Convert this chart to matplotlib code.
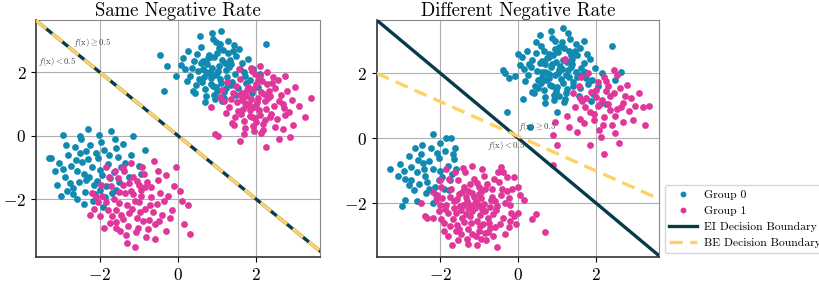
import numpy as np
import matplotlib
matplotlib.use("Agg")
import matplotlib.pyplot as plt

plt.rcParams['font.family'] = 'serif'
plt.rcParams['font.serif'] = ['cmr10', 'DejaVu Serif']
plt.rcParams['mathtext.fontset'] = 'cm'
plt.rcParams['axes.formatter.use_mathtext'] = True

BLUE = '#118ab2'
PINK = '#e0379b'
DARK = '#073b4c'
YELLOW = '#ffd166'

# ---- Same Negative Rate: point clouds ----
sn_g0_hi = [(1.02,2.05),(0.85,1.82),(1.21,2.31),(0.63,2.12),(1.45,1.95),(0.92,2.48),(1.10,1.66),(0.74,2.25),
            (1.33,2.40),(0.55,1.78),(1.58,2.10),(0.98,1.55),(1.27,2.62),(0.81,2.00),(1.06,2.20),(0.40,2.35),
            (1.72,1.88),(0.69,1.47),(1.15,2.72),(0.95,1.92),(1.38,1.70),(0.50,2.58),(0.88,2.15),(1.63,2.28),
            (1.19,1.38),(0.77,2.44),(1.01,1.98),(0.30,1.90),(1.49,2.52),(0.84,1.62),(1.24,2.08),(0.60,2.80),
            (1.85,1.75),(0.71,2.02),(1.09,2.90),(0.46,1.60),(1.31,2.18),(0.93,1.30),(0.13,2.45),(1.54,1.52),
            (1.12,2.38),(0.67,1.85),(0.89,3.05),(1.40,2.66),(0.22,1.72),(1.68,2.00),(0.99,1.42),(0.58,2.30),
            (1.26,1.85),(0.80,2.55),(2.10,1.95),(0.36,2.15),(1.04,2.76),(0.73,1.25),(1.36,1.60),(-0.45,2.55),
            (0.97,2.95),(1.18,1.18),(0.52,2.05),(1.80,2.42),(0.86,3.25),(0.61,1.68),(1.44,2.85),(0.08,2.22),
            (1.14,1.10),(0.78,1.97),(1.93,2.12),(0.44,1.35),(1.29,3.00),(0.91,1.58),(-0.28,2.20),(1.56,2.75),
            (0.70,1.05),(1.07,1.80),(0.26,2.68),(2.25,2.90),(1.22,1.50),(0.57,3.15),(0.83,2.48),(1.50,1.28),
            (-0.05,1.88),(1.00,2.62),(0.39,1.40),(1.75,1.65),(0.65,2.35),(1.35,2.25),(0.18,2.10),(1.11,3.30),
            (0.94,1.15),(-0.35,1.40),(2.05,1.55),(1.90,1.35)]
sn_g1_hi = [(2.02,1.05),(1.85,0.82),(2.21,1.31),(1.63,1.12),(2.45,0.95),(1.92,1.48),(2.10,0.66),(1.74,1.25),
            (2.33,1.40),(1.55,0.78),(2.58,1.10),(1.98,0.55),(2.27,1.62),(1.81,1.00),(2.06,1.20),(1.40,1.35),
            (2.72,0.88),(1.69,0.47),(2.15,1.72),(1.95,0.92),(2.38,0.70),(1.50,1.58),(1.88,1.15),(2.63,1.28),
            (2.19,0.38),(1.77,1.44),(2.01,0.98),(1.30,0.90),(2.49,1.52),(1.84,0.62),(2.24,1.08),(1.60,1.80),
            (2.85,0.75),(1.71,1.02),(2.09,1.90),(1.46,0.60),(2.31,1.18),(1.93,0.30),(1.13,1.45),(2.54,0.52),
            (2.12,1.38),(1.67,0.85),(1.89,2.05),(2.40,1.66),(1.22,0.72),(2.68,1.00),(1.99,0.42),(1.58,1.30),
            (2.26,0.85),(1.80,1.55),(3.10,0.95),(1.36,1.15),(2.04,1.76),(1.73,0.25),(2.36,0.60),(0.95,0.05),
            (1.97,1.95),(2.18,0.18),(1.52,1.05),(2.80,1.42),(1.86,2.15),(1.61,0.68),(2.44,1.85),(1.08,1.22),
            (2.14,0.10),(1.78,0.97),(2.93,1.12),(1.44,0.35),(2.29,2.00),(1.91,0.58),(3.40,1.20),(2.56,1.75),
            (1.70,0.05),(2.07,0.80),(1.26,1.68),(2.75,1.90),(2.22,0.50),(1.57,2.10),(1.83,1.48),(2.50,0.28),
            (0.85,0.92),(2.00,1.62),(1.39,0.40),(2.75,0.65),(1.65,1.35),(2.35,1.25),(1.18,1.10),(2.11,2.20),
            (1.94,0.15),(3.25,0.60),(2.60,-0.10),(2.70,0.20),(2.88,-0.05),(1.60,-0.18),(1.02,0.00),(3.00,1.55),
            (2.95,0.35),(2.25,-0.35)]
sn_g0_lo = [(-2.20,-1.00),(-2.45,-0.82),(-1.95,-1.25),(-2.60,-1.10),(-2.05,-0.70),(-2.35,-1.40),(-1.80,-0.90),
            (-2.75,-0.95),(-2.15,-1.55),(-1.65,-1.15),(-2.50,-0.55),(-2.00,-1.08),(-2.90,-1.30),(-1.90,-0.45),
            (-2.30,-0.75),(-2.68,-1.65),(-1.55,-0.68),(-2.12,-1.85),(-2.82,-0.60),(-1.75,-1.35),(-2.40,-1.20),
            (-3.05,-0.85),(-1.45,-1.00),(-2.25,-0.30),(-2.55,-1.45),(-1.85,-1.60),(-2.95,-1.05),(-2.10,-0.55),
            (-1.60,-0.40),(-2.65,-0.35),(-3.30,-0.70),(-1.35,-0.85),(-2.38,-1.78),(-1.98,-0.20),(-2.78,-1.50),
            (-1.70,-1.80),(-2.48,-0.10),(-3.15,-1.10),(-1.20,-0.60),(-2.18,-2.05),(-2.88,-0.30),(-1.50,-1.45),
            (-2.58,-2.00),(-1.00,-0.95),(-2.02,0.02),(-3.25,-0.72),(-2.30,0.20),(-1.40,-0.25),(-2.70,-1.85),
            (-1.88,-1.95),(-0.85,-0.45),(-2.95,0.02),(-1.25,-1.30),(-2.42,-2.15),(-3.10,-1.55),(-1.62,-0.10),
            (-2.28,-1.30),(-1.78,-0.62),(-2.62,-0.78),(-2.08,-1.42),(-0.95,-1.20),(-2.85,-1.75),(-2.52,0.00),
            (-1.92,-2.25),(-2.00,-1.70),(-1.15,0.00),(-3.00,-1.90),(-1.72,0.15),(-2.35,-0.48),(-1.58,-1.72)]
sn_g1_lo = [(-1.10,-2.05),(-1.35,-1.82),(-0.85,-2.30),(-1.50,-2.12),(-0.95,-1.70),(-1.25,-2.45),(-0.70,-1.95),
            (-1.65,-2.00),(-1.05,-2.60),(-0.55,-2.15),(-1.40,-1.55),(-1.00,-2.08),(-1.80,-2.35),(-0.80,-1.45),
            (-1.20,-1.75),(-1.58,-2.72),(-0.45,-1.80),(-1.02,-2.90),(-1.72,-1.60),(-0.65,-2.40),(-1.30,-2.20),
            (-1.95,-1.90),(-0.35,-2.05),(-1.15,-1.30),(-1.45,-2.50),(-0.75,-2.65),(-1.85,-2.10),(-1.00,-1.55),
            (-0.50,-1.40),(-1.55,-1.35),(-2.20,-1.80),(-0.25,-1.90),(-1.28,-2.85),(-0.88,-1.20),(-1.68,-2.55),
            (-0.60,-2.80),(-1.38,-1.10),(-2.05,-2.10),(-0.10,-1.60),(-1.08,-3.05),(-1.78,-1.30),(-0.40,-2.50),
            (-1.48,-3.00),(0.10,-2.05),(-0.92,-1.00),(-2.15,-2.30),(-1.20,-0.85),(-0.30,-1.25),(-1.60,-2.90),
            (-0.78,-2.95),(0.25,-2.20),(-1.85,-1.00),(-0.15,-2.35),(-1.32,-3.15),(-2.00,-2.55),(-0.52,-1.10),
            (-1.18,-2.30),(-0.68,-1.62),(-1.52,-1.78),(-0.98,-2.42),(0.15,-2.80),(-1.75,-2.75),(-1.42,-0.98),
            (-0.82,-3.20),(-0.90,-2.70),(-0.05,-1.00),(-1.90,-2.90),(-0.62,-0.80),(-1.25,-1.48),(-0.48,-2.70),
            (-1.30,-3.40),(-1.10,-3.50),(-2.25,-2.50),(0.30,-3.10),(-0.60,-3.25),(-1.60,-2.35),(-1.15,-1.85),
            (-0.72,-2.18),(-1.40,-2.62),(-0.95,-1.90),(-1.98,-1.55),(-0.20,-2.60),(-1.62,-1.10),(-0.30,-3.00),
            (-2.10,-1.95),(0.05,-1.75),(-0.85,-1.62),(-1.05,-1.42)]

# ---- Different Negative Rate ----
dn_g0_hi = [(1.05,2.10),(0.80,1.85),(1.25,2.35),(0.60,2.05),(1.50,1.90),(0.90,2.55),(1.15,1.70),(0.70,2.30),
            (1.38,2.45),(0.50,1.80),(1.62,2.15),(1.00,1.58),(1.30,2.68),(0.78,1.98),(1.08,2.22),(0.35,2.40),
            (1.75,1.85),(0.65,1.50),(1.18,2.78),(0.95,1.95),(1.42,1.72),(0.45,2.62),(0.85,2.18),(1.68,2.32),
            (1.22,1.40),(0.75,2.48),(1.02,2.00),(0.25,1.95),(1.52,2.58),(0.82,1.65),(1.28,2.10),(0.58,2.85),
            (1.90,1.78),(0.68,2.05),(1.12,2.95),(0.42,1.62),(1.35,2.20),(0.92,1.32),(0.10,2.50),(1.58,1.55),
            (1.15,2.42),(0.62,1.88),(0.88,3.10),(1.45,2.70),(0.18,1.75),(1.72,2.05),(0.98,1.45),(0.55,2.32),
            (1.30,1.88),(0.78,2.60),(2.15,2.00),(0.32,2.18),(1.05,2.80),(0.70,1.28),(1.40,1.62),(-0.40,2.10),
            (0.95,3.00),(1.20,1.20),(0.48,2.08),(1.85,2.45),(0.85,3.30),(0.58,1.70),(1.48,2.90),(0.05,2.25),
            (1.18,1.12),(0.75,2.00),(1.98,2.15),(0.40,1.38),(1.32,3.05),(0.88,1.60),(-0.25,1.85),(1.60,2.78),
            (0.68,1.08),(1.10,1.82),(0.22,2.70),(2.40,2.85),(1.25,1.52),(0.55,3.18),(0.80,2.50),(1.55,1.30),
            (-0.08,1.92),(1.02,2.65),(0.35,1.42),(1.80,1.68),(0.62,2.38),(1.38,2.28),(0.15,2.12),(1.15,3.40),
            (0.92,1.18),(-0.30,0.80),(2.05,1.60),(1.92,1.35),(0.30,0.35),(0.12,1.20),(2.50,1.80),(2.65,2.05),
            (-0.35,2.00),(0.00,2.60),(1.70,3.00),(1.28,3.25),(0.45,2.95),(0.98,2.35),(1.12,2.12),(0.72,1.78),
            (1.48,2.05),(0.88,2.28),(1.22,1.95),(0.65,2.70),(1.62,1.95),(0.52,1.55),(1.05,1.30),(1.35,2.55),
            (0.95,2.75),(0.28,2.30),(1.78,2.60),(1.88,1.15),(1.00,0.80),(2.25,1.05)]
dn_g1_hi = [(2.10,1.05),(1.85,0.80),(2.35,1.30),(1.65,1.15),(2.55,0.90),(2.00,1.50),(2.20,0.65),(1.75,1.25),
            (2.45,1.40),(2.70,1.10),(1.95,0.55),(2.30,1.62),(2.05,0.98),(2.85,0.85),(1.70,0.48),(2.25,1.75),
            (2.50,0.70),(1.55,1.60),(2.15,1.18),(2.75,1.30),(2.40,0.40),(1.88,1.42),(3.00,1.00),(1.60,0.60),
            (2.62,1.55),(2.08,0.25),(3.20,0.95),(1.45,0.95),(2.35,0.88),(2.90,1.25),(1.25,0.70),(2.55,1.95),
            (1.80,2.00),(3.35,1.00),(2.20,1.90),(1.40,1.40),(2.95,0.55),(1.50,0.20),(2.12,0.05),(2.60,-0.15),
            (1.85,-0.20),(1.20,2.45),(1.62,1.88),(2.45,2.10),(0.95,0.50),(1.00,-0.20),(2.65,0.95),(2.00,1.28),
            (1.72,0.95),(2.30,1.05),(3.10,1.40),(2.80,1.65),(1.30,0.35),(0.90,0.10),(2.48,0.15),(2.18,0.40),
            (3.25,0.40),(1.95,0.75),(2.70,0.50),(1.58,1.25),(2.25,1.45),(2.05,1.72),(0.90,-0.83),(2.20,-0.50)]
dn_g0_lo = [(-2.20,-0.95),(-2.45,-0.75),(-1.95,-1.20),(-2.60,-1.05),(-2.05,-0.60),(-2.35,-1.35),(-1.80,-0.85),
            (-2.75,-0.90),(-2.15,-1.50),(-1.70,-1.10),(-2.50,-0.50),(-2.00,-1.00),(-2.90,-1.25),(-1.88,-0.40),
            (-2.30,-0.70),(-2.68,-1.60),(-1.65,-0.65),(-2.12,-1.75),(-2.82,-0.55),(-1.75,-1.30),(-2.40,-1.15),
            (-3.05,-0.80),(-1.60,-0.95),(-2.25,-0.30),(-2.55,-1.40),(-1.92,-1.55),(-2.95,-1.00),(-2.10,-0.45),
            (-1.62,-0.30),(-2.65,-0.30),(-3.30,-0.95),(-1.85,0.00),(-2.38,-1.70),(-2.00,-0.15),(-2.80,-1.45),
            (-1.72,0.00),(-2.48,-0.20),(-3.10,-1.15),(-2.18,0.12),(-2.90,-1.90),(-2.98,-2.10),(-2.60,-1.95),
            (-2.20,-2.00),(-1.78,-1.60),(-2.05,-1.28),(-2.42,-0.95),(-1.68,-0.50),(-2.58,-0.68),(-2.30,-1.55),
            (-2.75,-1.30)]
dn_g1_lo = [(-1.10,-2.00),(-1.35,-1.80),(-0.85,-2.25),(-1.50,-2.10),(-0.95,-1.65),(-1.25,-2.40),(-0.70,-1.90),
            (-1.65,-1.95),(-1.05,-2.55),(-0.55,-2.10),(-1.40,-1.50),(-1.00,-2.05),(-1.80,-2.30),(-0.80,-1.40),
            (-1.20,-1.70),(-1.58,-2.68),(-0.45,-1.75),(-1.02,-2.85),(-1.72,-1.55),(-0.65,-2.35),(-1.30,-2.15),
            (-1.95,-1.85),(-0.35,-2.00),(-1.15,-1.25),(-1.45,-2.45),(-0.75,-2.60),(-1.85,-2.05),(-1.00,-1.50),
            (-0.50,-1.35),(-1.55,-1.30),(-2.10,-1.75),(-0.25,-1.85),(-1.28,-2.80),(-0.88,-1.15),(-1.68,-2.50),
            (-0.60,-2.75),(-1.38,-1.05),(-2.00,-2.05),(-0.15,-1.55),(-1.08,-3.00),(-1.78,-1.25),(-0.40,-2.45),
            (-1.48,-2.95),(-0.20,-2.05),(-0.92,-0.95),(-2.05,-2.25),(-1.20,-0.85),(-0.30,-1.20),(-1.60,-2.85),
            (-0.78,-2.90),(0.00,-2.30),(-1.85,-0.95),(-0.18,-2.30),(-1.32,-3.10),(-1.98,-2.50),(-0.52,-1.05),
            (-1.18,-2.25),(-0.68,-1.58),(-1.52,-1.72),(-0.98,-2.38),(-0.05,-2.65),(-1.75,-2.70),(-1.42,-0.92),
            (-0.82,-3.15),(-0.90,-2.65),(-0.45,-0.90),(-1.90,-2.85),(-0.62,-1.25),(-1.25,-1.42),(-0.48,-2.65),
            (-1.30,-3.25),(-1.05,-3.30),(-2.20,-2.45),(0.70,-2.90),(-0.55,-3.35),(-1.60,-2.30),(-1.15,-1.80),
            (-0.72,-2.12),(-1.40,-2.58),(-0.95,-1.85),(-1.98,-1.50),(-0.22,-2.55),(-1.62,-1.05),(-0.35,-2.95),
            (-2.12,-1.90),(0.05,-1.75),(-0.85,-1.58),(-1.05,-1.38),(-1.70,-3.30),(0.45,-2.35),(0.35,-2.50),
            (-2.50,-2.00),(-2.20,-1.65),(-2.40,-2.40),(-2.35,-2.45),(-1.12,-2.15),(-1.32,-1.95),(-0.88,-2.02),
            (-1.48,-2.22),(-1.22,-2.60),(-0.68,-1.82),(-1.58,-1.88),(-0.98,-2.72),(-1.42,-2.05),(-0.78,-2.45),
            (-1.08,-1.92),(-1.35,-2.35),(-0.58,-2.22),(-1.88,-2.18),(-1.28,-1.62),(-0.92,-2.18),(-1.65,-2.15),
            (-1.18,-2.95),(-0.42,-1.55),(-1.52,-2.80),(-0.72,-2.78),(-1.92,-2.62),(-0.30,-1.62),(-1.02,-1.72),
            (-1.45,-1.65),(-0.60,-1.95),(-1.75,-1.82),(-0.85,-2.92),(-1.25,-2.05),(0.00,-1.50),(-0.10,-1.20),
            (-0.40,-1.05),(-2.00,-1.30),(-1.80,-3.00),(-0.25,-2.75),(-1.55,-3.15),(-0.95,-3.10),(-0.65,-3.00),
            (0.15,-1.90),(-0.10,-2.40)]

# decision boundaries: y = slope * x + intercept
sn_ei_line = (-1.0, 0.0)
sn_be_line = (-1.0, 0.0)
dn_ei_line = (-1.0, 0.0)
dn_be_line = (-0.533, 0.06)

sn_xlim, sn_ylim = (-3.64, 3.64), (-3.83, 3.65)
dn_xlim, dn_ylim = (-3.64, 3.62), (-3.66, 3.64)

fig = plt.figure(figsize=(8.2, 2.82), dpi=100)
ax1 = fig.add_axes([0.0439, 0.0887, 0.3463, 0.840])
ax2 = fig.add_axes([0.4594, 0.0887, 0.3443, 0.840])


def draw_panel(ax, title, g0, g1, ei, be, xlim, ylim, txt_hi, txt_lo):
    ax.set_axisbelow(True)
    ax.grid(True, color='#b0b0b0', linewidth=0.8)
    for pts, col in zip(g0 + g1, [BLUE, BLUE, PINK, PINK]):
        arr = np.array(pts)
        ax.scatter(arr[:, 0], arr[:, 1], s=24, color=col, linewidths=0, zorder=2)
    xs = np.array(xlim)
    ax.plot(xs, ei[0] * xs + ei[1], color=DARK, lw=2.4, zorder=3)
    ax.plot(xs, be[0] * xs + be[1], color=YELLOW, lw=2.4, ls=(0, (4, 2.2)), zorder=4)
    ax.set_xlim(xlim)
    ax.set_ylim(ylim)
    ax.set_xticks([-2, 0, 2])
    ax.set_yticks([-2, 0, 2])
    ax.tick_params(labelsize=12.5, length=3.5)
    ax.set_title(title, fontsize=13.5, pad=3)
    ax.text(txt_hi[0], txt_hi[1], r'$f(\mathrm{x})\geq 0.5$', fontsize=6.3, color='#444444', zorder=5)
    ax.text(txt_lo[0], txt_lo[1], r'$f(\mathrm{x})<0.5$', fontsize=6.3, color='#444444', zorder=5)
    for side in ['top', 'right']:
        ax.spines[side].set_color('#888888')
    for side in ['left', 'bottom']:
        ax.spines[side].set_color('#333333')
        ax.spines[side].set_linewidth(1.2)


draw_panel(ax1, 'Same Negative Rate', [sn_g0_hi, sn_g0_lo], [sn_g1_hi, sn_g1_lo],
           sn_ei_line, sn_be_line, sn_xlim, sn_ylim, (-2.7, 2.85), (-3.58, 2.27))
draw_panel(ax2, 'Different Negative Rate', [dn_g0_hi, dn_g0_lo], [dn_g1_hi, dn_g1_lo],
           dn_ei_line, dn_be_line, dn_xlim, dn_ylim, (0.0, 0.28), (-0.8, -0.30))

handles = [
    plt.Line2D([], [], ls='none', marker='o', ms=3.2, color=BLUE),
    plt.Line2D([], [], ls='none', marker='o', ms=3.2, color=PINK),
    plt.Line2D([], [], color=DARK, lw=2.4),
    plt.Line2D([], [], color=YELLOW, lw=2.4, ls=(0, (4, 2.2))),
]
labels = ['Group 0', 'Group 1', 'EI Decision Boundary', 'BE Decision Boundary']
ax2.legend(handles, labels, loc='lower left', bbox_to_anchor=(1.005, 0.0), fontsize=8.4,
           frameon=True, borderaxespad=0.35, handlelength=2.4, handletextpad=0.6,
           borderpad=0.4, labelspacing=0.5)

fig.savefig('out.png', dpi=100)
